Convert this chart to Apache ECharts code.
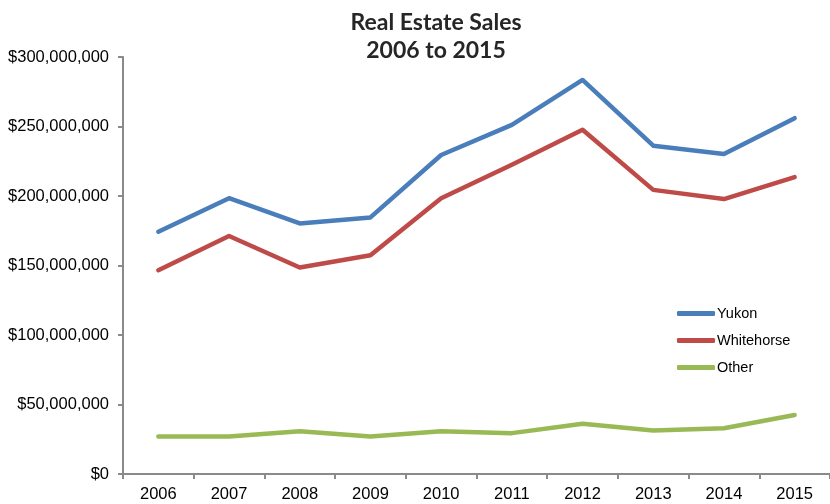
<!DOCTYPE html>
<html>
<head>
<meta charset="utf-8">
<script src="https://cdn.jsdelivr.net/npm/echarts@6/dist/echarts.min.js"></script>
<style>
  html, body { margin: 0; padding: 0; background: #fff; }
  #chart { width: 830px; height: 504px; }
</style>
</head>
<body>
<div id="chart"></div>
<script>
const years = ["2006", "2007", "2008", "2009", "2010", "2011", "2012", "2013", "2014", "2015"];
const yukon = [174.3e6, 198.4e6, 180.3e6, 184.6e6, 229.5e6, 251.2e6, 283.5e6, 236.2e6, 230.2e6, 256e6];
const whitehorse = [146.6e6, 171.2e6, 148.6e6, 157.4e6, 198.4e6, 222.5e6, 247.6e6, 204.4e6, 197.8e6, 213.6e6];
const other = [26.9e6, 26.9e6, 30.8e6, 26.9e6, 30.8e6, 29.4e6, 36.1e6, 31.3e6, 32.9e6, 42.5e6];

const chart = echarts.init(document.getElementById("chart"));

function money(v) {
  return "$" + v.toLocaleString("en-US");
}

function line(name, data, color) {
  return {
    name: name,
    type: "line",
    data: data,
    symbol: "none",
    lineStyle: { width: 4.5, color: color, cap: "round", join: "round" },
    itemStyle: { color: color },
  };
}

chart.setOption({
  animation: false,
  title: {
    text: "Real Estate Sales\n2006 to 2015",
    left: 431,
    top: 4,
    textAlign: "center",
    textStyle: {
      fontFamily: "Lato",
      fontWeight: "bold",
      fontSize: 23,
      lineHeight: 28,
      color: "#262626",
    },
  },
  legend: {
    orient: "vertical",
    left: 672,
    top: 301,
    itemWidth: 38,
    itemHeight: 5,
    itemGap: 12,
    icon: "roundRect",
    textStyle: { fontFamily: "Liberation Sans", fontSize: 14.5, color: "#000", padding: [0, 0, 0, -3] },
    data: ["Yukon", "Whitehorse", "Other"],
  },
  grid: { left: 123, top: 57, width: 712, bottom: 30, containLabel: false },
  xAxis: {
    type: "category",
    data: years,
    boundaryGap: true,
    axisLine: { lineStyle: { color: "#8a8a8a", width: 2 } },
    axisTick: { show: true, length: 5, alignWithLabel: false, lineStyle: { color: "#8a8a8a", width: 2 } },
    axisLabel: { fontFamily: "Liberation Sans", fontSize: 16.5, color: "#000", margin: 12 },
  },
  yAxis: {
    type: "value",
    min: 0,
    max: 300e6,
    interval: 50e6,
    axisLine: { show: true, lineStyle: { color: "#8a8a8a", width: 2 } },
    axisTick: { show: true, length: 5, lineStyle: { color: "#8a8a8a", width: 2 } },
    splitLine: { show: false },
    axisLabel: { fontFamily: "Liberation Sans", fontSize: 16.5, color: "#000", margin: 14, formatter: money },
  },
  series: [
    line("Yukon", yukon, "#4a7ebb"),
    line("Whitehorse", whitehorse, "#be4b48"),
    line("Other", other, "#98b954"),
  ],
});
</script>
</body>
</html>
